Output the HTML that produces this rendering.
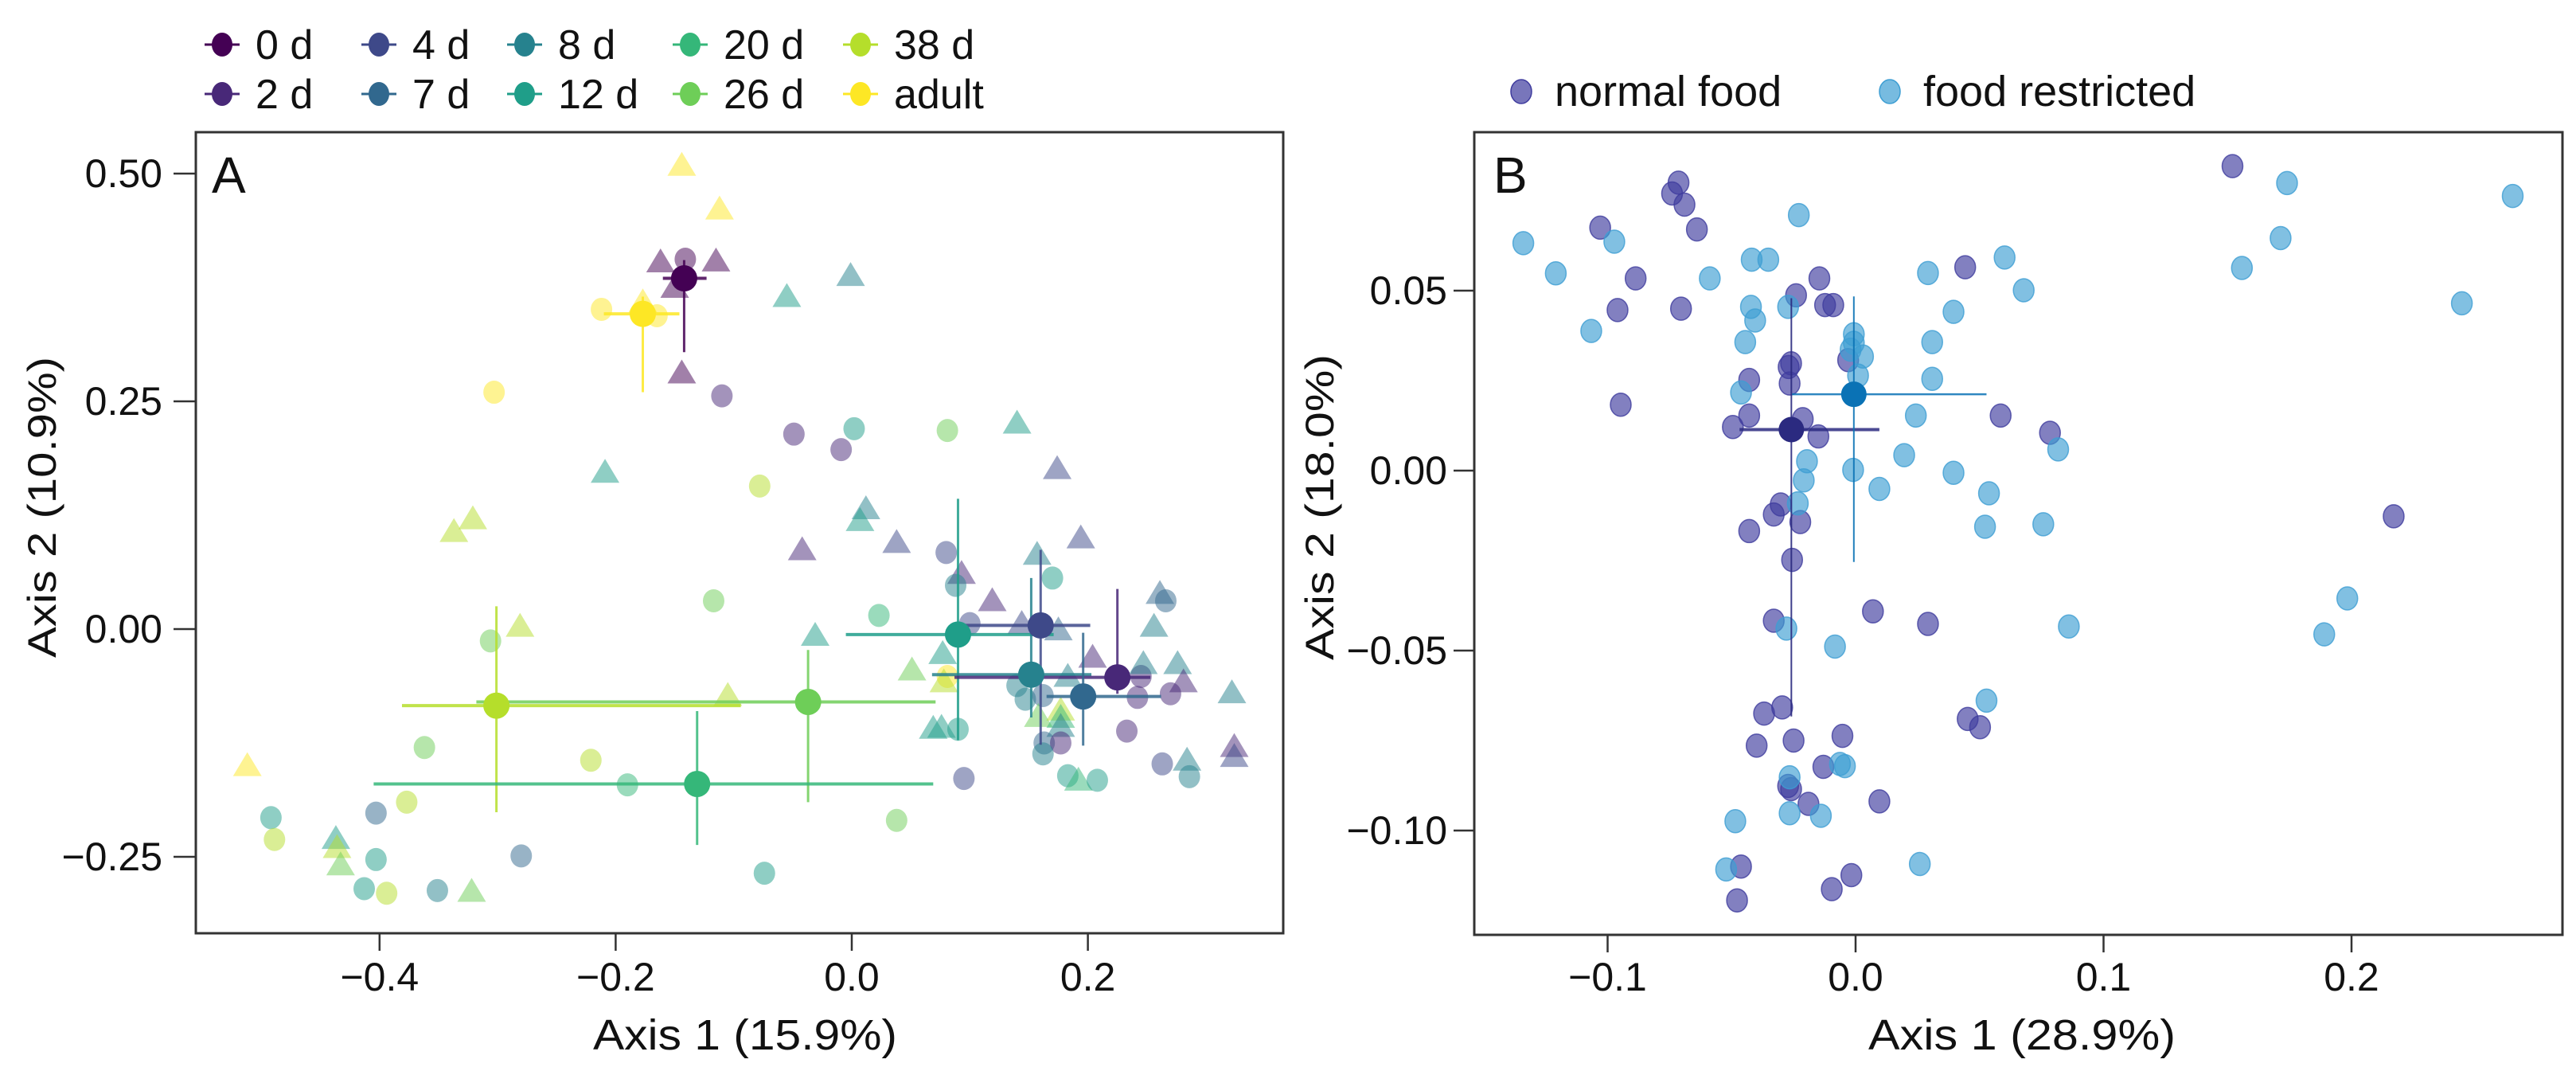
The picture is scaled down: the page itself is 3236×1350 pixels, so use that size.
<!DOCTYPE html>
<html><head><meta charset="utf-8">
<style>
html,body{margin:0;padding:0;background:#fff;}
svg{display:block;}
text{font-family:"Liberation Sans Narrow","Liberation Sans",sans-serif;fill:#111;}
.rt{font-family:"Liberation Sans",sans-serif;}
</style></head>
<body>
<svg id="chart" width="3236" height="1350" viewBox="0 0 3236 1350" xmlns="http://www.w3.org/2000/svg">
<defs>
<clipPath id="clipA"><rect x="246" y="166" width="1366" height="1006"/></clipPath>
<clipPath id="clipB"><rect x="1852" y="166" width="1367" height="1008"/></clipPath>
</defs>
<rect width="3236" height="1350" fill="#fff"/>
<g id="legendA"></g>
<g id="legendB"></g>
<g id="panelA">
  <g id="ptsA" clip-path="url(#clipA)"></g>
  <rect x="246" y="166" width="1366" height="1006" fill="none" stroke="#333" stroke-width="3"/>
  <text x="266" y="242" font-size="64">A</text>
  <g id="axA"></g>
  <text x="936" y="1318" font-size="54" text-anchor="middle" textLength="382" lengthAdjust="spacingAndGlyphs">Axis 1  (15.9%)</text>
  <text class="rt" x="0" y="0" font-size="50" text-anchor="middle" textLength="378" lengthAdjust="spacingAndGlyphs" transform="translate(70,637) rotate(-90)">Axis 2  (10.9%)</text>
</g>
<g id="panelB">
  <g id="ptsB" clip-path="url(#clipB)"></g>
  <rect x="1852" y="166" width="1367" height="1008" fill="none" stroke="#333" stroke-width="3"/>
  <text x="1876" y="242" font-size="64" class="rt">B</text>
  <g id="axB"></g>
  <text x="2540" y="1318" font-size="54" text-anchor="middle" textLength="386" lengthAdjust="spacingAndGlyphs">Axis 1  (28.9%)</text>
  <text class="rt" x="0" y="0" font-size="50" text-anchor="middle" textLength="384" lengthAdjust="spacingAndGlyphs" transform="translate(1675,637) rotate(-90)">Axis 2  (18.0%)</text>
</g>
</svg>
<script>
const NS="http://www.w3.org/2000/svg";
// ---------- Panel A data ----------
const groupLabels=["0 d","2 d","4 d","7 d","8 d","12 d","20 d","26 d","38 d","adult"];
const groupColors=["#440154","#482878","#3e4989","#31688e","#26828e","#1f9e89","#35b779","#6ece58","#b5de2b","#fde725"];
const aGroup=[9,9,0,0,0,0,9,9,9,0,1,9,5,8,8,5,4,1,5,1,7,5,2,8,4,5,2,2,1,2,1,4,1,4,5,3,3,4,6,5,2,2,3,5,7,9,8,1,1,4,4,1,1,1,4,4,4,4,3,7,8,6,4,5,5,5,1,3,1,4,1,2,2,4,4,2,5,6,5,7,5,7,8,7,8,7,8,9,6,8,3,5,8,5,8,7,5,3,5,8,4,7];
const aShape=["t","t","t","d","t","t","d","d","t","t","d","d","t","t","t","t","t","d","d","d","d","t","t","d","t","t","t","t","t","d","t","d","t","t","d","t","d","t","d","t","d","t","t","t","t","d","t","t","d","t","t","t","d","d","t","t","d","d","d","t","t","t","t","t","t","d","d","d","d","d","t","t","d","t","d","d","d","t","d","d","d","d","t","d","t","d","d","t","d","d","d","d","d","t","t","t","d","d","d","d","d","t"];
const aX=[-0.144,-0.112,-0.162,-0.141,-0.115,-0.150,-0.212,-0.165,-0.177,-0.144,-0.110,-0.303,-0.209,-0.321,-0.337,-0.055,-0.001,-0.049,0.002,-0.009,0.081,0.140,0.174,-0.078,0.012,0.007,0.038,0.194,-0.042,0.080,0.093,0.088,0.119,0.157,0.170,0.261,0.266,0.256,0.023,-0.031,0.100,0.144,0.175,0.077,0.051,0.081,0.078,0.204,0.245,0.247,0.276,0.281,0.270,0.242,0.322,0.183,0.140,0.147,0.162,0.158,0.177,0.177,0.177,0.069,0.076,0.090,0.233,0.163,0.177,0.162,0.324,0.324,0.263,0.284,0.286,0.095,0.183,0.192,0.208,0.038,-0.074,-0.117,-0.281,-0.306,-0.105,-0.362,-0.221,-0.512,-0.190,-0.377,-0.403,-0.492,-0.489,-0.437,-0.436,-0.433,-0.403,-0.280,-0.413,-0.394,-0.351,-0.322];
const aY=[0.509,0.461,0.403,0.406,0.404,0.375,0.351,0.344,0.359,0.281,0.256,0.260,0.172,0.121,0.107,0.365,0.388,0.214,0.220,0.197,0.218,0.226,0.176,0.157,0.132,0.119,0.095,0.100,0.087,0.084,0.061,0.048,0.031,0.082,0.056,0.039,0.031,0.003,0.015,-0.007,0.006,0.006,-0.001,-0.027,-0.045,-0.052,-0.058,-0.031,-0.052,-0.038,-0.038,-0.058,-0.071,-0.075,-0.070,-0.052,-0.062,-0.077,-0.073,-0.096,-0.089,-0.097,-0.107,-0.109,-0.108,-0.110,-0.112,-0.125,-0.125,-0.137,-0.129,-0.140,-0.148,-0.144,-0.162,-0.164,-0.161,-0.166,-0.166,-0.210,-0.268,0.031,0.003,-0.013,-0.073,-0.130,-0.144,-0.150,-0.171,-0.190,-0.202,-0.207,-0.231,-0.230,-0.240,-0.259,-0.253,-0.249,-0.285,-0.290,-0.287,-0.288];
const cGroup=[0,9,8,7,6,5,2,4,1,3];
const cX=[-0.142,-0.177,-0.301,-0.037,-0.131,0.090,0.160,0.152,0.225,0.196];
const cY=[0.385,0.346,-0.084,-0.080,-0.170,-0.006,0.004,-0.050,-0.053,-0.074];
const cXlo=[-0.160,-0.210,-0.381,-0.318,-0.405,-0.005,0.094,0.068,0.087,0.165];
const cXhi=[-0.123,-0.146,-0.094,0.071,0.069,0.171,0.202,0.203,0.253,0.262];
const cYlo=[0.304,0.260,-0.201,-0.190,-0.237,-0.122,-0.127,-0.097,-0.071,-0.128];
const cYhi=[0.405,0.365,0.025,-0.023,-0.090,0.143,0.087,0.056,0.044,-0.004];
const aXTicks=[-0.4,-0.2,0,0.2];
const aXTickLabels=["\u22120.4","\u22120.2","0.0","0.2"];
const aYTicks=[0.5,0.25,0,-0.25];
const aYTickLabels=["0.50","0.25","0.00","\u22120.25"];
// ---------- Panel B data ----------
const bLabels=["normal food","food restricted"];
const bColors=["#3f3c9e","#3d9ed3"];
const bCentroidColors=["#2b2a80","#0a72b5"];
const nfX=[0.152,-0.0714,-0.074,-0.069,-0.064,-0.103,-0.0887,0.0442,-0.0146,-0.024,-0.096,-0.0704,-0.0123,-0.009,-0.027,-0.026,-0.0429,-0.0266,-0.003,-0.0947,-0.0429,-0.0495,-0.0213,-0.015,0.0585,0.0784,0.217,-0.0302,-0.033,-0.0223,-0.0429,-0.0256,0.007,-0.033,0.0292,-0.0296,-0.0369,0.0452,0.0502,-0.0053,-0.025,-0.0399,-0.013,-0.0272,-0.026,-0.019,0.0096,-0.0462,-0.0017,-0.0096,-0.0478];
const nfY=[0.0846,0.080,0.077,0.0739,0.067,0.0675,0.0534,0.0565,0.0534,0.0487,0.0446,0.045,0.046,0.046,0.0288,0.0298,0.0252,0.0242,0.0307,0.0183,0.0153,0.0121,0.0143,0.0095,0.0153,0.0105,-0.0127,-0.0094,-0.0122,-0.0143,-0.0168,-0.0248,-0.0391,-0.0417,-0.0426,-0.0658,-0.0675,-0.069,-0.0713,-0.0737,-0.075,-0.0764,-0.0823,-0.0876,-0.0885,-0.0926,-0.0919,-0.110,-0.1124,-0.1163,-0.1194];
const frX=[0.174,0.265,-0.0229,-0.134,-0.0973,0.1714,-0.1209,-0.0588,-0.0419,-0.0352,0.0601,0.0292,0.1558,0.0678,0.2445,-0.0422,-0.0272,-0.0405,-0.1066,0.0395,-0.0445,-0.0007,-0.0007,0.0309,0.003,-0.002,0.001,0.0309,-0.0462,0.0243,0.0196,0.0817,-0.0196,-0.001,-0.0209,0.0395,0.0096,0.0538,-0.0233,0.0522,0.0757,0.1983,0.086,0.189,-0.0279,-0.0083,0.0528,-0.0063,-0.0043,-0.0266,-0.0266,-0.014,-0.0485,0.0259,-0.0522];
const frY=[0.0799,0.0763,0.071,0.0632,0.0636,0.0646,0.0548,0.0534,0.0586,0.0586,0.0592,0.0549,0.0563,0.0501,0.0465,0.0455,0.0455,0.0417,0.0388,0.0441,0.0357,0.0379,0.0355,0.0357,0.0317,0.0336,0.0264,0.0255,0.0217,0.0153,0.0043,0.0059,0.0026,0.0002,-0.0027,-0.0006,-0.0051,-0.0063,-0.0091,-0.0156,-0.0149,-0.0355,-0.0433,-0.0455,-0.0439,-0.0489,-0.0639,-0.0815,-0.0821,-0.0852,-0.0952,-0.0959,-0.0974,-0.1093,-0.1108];
const bcX=[-0.0259,-0.0007];
const bcY=[0.0114,0.0212];
const bcXlo=[-0.0468,-0.0256];
const bcXhi=[0.0096,0.0528];
const bcYlo=[-0.0683,-0.0254];
const bcYhi=[0.0479,0.0484];
const bXTicks=[-0.1,0,0.1,0.2];
const bXTickLabels=["\u22120.1","0.0","0.1","0.2"];
const bYTicks=[0.05,0,-0.05,-0.1];
const bYTickLabels=["0.05","0.00","\u22120.05","\u22120.10"];

// ---------- scales ----------
function ax(v){return 1070+1483*v;}
function ay(v){return 790-1144*v;}
function bx(v){return 2331+3115*v;}
function by(v){return 591-4520*v;}

function mk(tag,attrs,parent){const e=document.createElementNS(NS,tag);for(const k in attrs)e.setAttribute(k,attrs[k]);parent.appendChild(e);return e;}

// ---------- Panel A ----------
const ptsA=document.getElementById('ptsA');
for(let i=0;i<aX.length;i++){
  const x=ax(aX[i]),y=ay(aY[i]),c=groupColors[aGroup[i]];
  let el;
  if(aShape[i]==="t"){
    el=mk('polygon',{points:(x)+","+(y-17)+" "+(x-18)+","+(y+13)+" "+(x+18)+","+(y+13),fill:c,'fill-opacity':0.5},ptsA);
    
    
  }else{
    el=mk('ellipse',{cx:x,cy:y,rx:13.5,ry:14.5,fill:c,'fill-opacity':0.5},ptsA);
    
    
  }
}
for(let i=0;i<cX.length;i++){
  const c=groupColors[cGroup[i]];
  const h=mk('line',{x1:ax(cXlo[i]),x2:ax(cXhi[i]),y1:ay(cY[i]),y2:ay(cY[i]),stroke:c,'stroke-width':4,'stroke-opacity':0.85},ptsA);
  
  
  const v=mk('line',{x1:ax(cX[i]),x2:ax(cX[i]),y1:ay(cYlo[i]),y2:ay(cYhi[i]),stroke:c,'stroke-width':3,'stroke-opacity':0.85},ptsA);
  
  
}
for(let i=0;i<cX.length;i++){
  const c=groupColors[cGroup[i]];
  const p=mk('circle',{cx:ax(cX[i]),cy:ay(cY[i]),r:16.5,fill:c},ptsA);
  
  
}
const axA=document.getElementById('axA');
for(let i=0;i<aXTicks.length;i++){
  const x=ax(aXTicks[i]);
  const t=mk('line',{x1:x,x2:x,y1:1172,y2:1194,stroke:'#333','stroke-width':2.5},axA);
  
  
  const l=mk('text',{x:x,y:1244,'font-size':50,'text-anchor':'middle'},axA);
  l.textContent=aXTickLabels[i];
  
  
}
for(let i=0;i<aYTicks.length;i++){
  const y=ay(aYTicks[i]);
  const t=mk('line',{x1:218,x2:246,y1:y,y2:y,stroke:'#333','stroke-width':2.5},axA);
  
  
  const l=mk('text',{x:204,y:y+17,'font-size':50,'text-anchor':'end'},axA);
  l.textContent=aYTickLabels[i];
  
  
}
// legend A
const legA=document.getElementById('legendA');
const legColX=[279,476,659,867,1081];
const legRowY=[56,118];
for(let g=0;g<groupLabels.length;g++){
  const col=Math.floor(g/2),row=g%2;
  const x=legColX[col],y=legRowY[row];
  const ln=mk('line',{x1:x-22,x2:x+22,y1:y,y2:y,stroke:groupColors[g],'stroke-width':3},legA);
  
  
  const c=mk('ellipse',{cx:x,cy:y,rx:13,ry:15,fill:groupColors[g]},legA);
  
  
  const t=mk('text',{x:x+42,y:y+18,'font-size':52},legA);
  t.textContent=groupLabels[g];
  
  
}

// ---------- Panel B ----------
const ptsB=document.getElementById('ptsB');
function bpt(x,y,k,name){
  const e=mk('ellipse',{cx:bx(x),cy:by(y),rx:13,ry:14.5,fill:bColors[k],'fill-opacity':0.65,stroke:bColors[k],'stroke-opacity':0.8,'stroke-width':1.5},ptsB);
  
  
}
for(let i=0;i<nfX.length;i++){bpt(nfX[i],nfY[i],0,'normal-food-point');}
for(let i=0;i<frX.length;i++){bpt(frX[i],frY[i],1,'food-restricted-point');}
for(let i=0;i<bcX.length;i++){
  const c=bCentroidColors[i];
  const h=mk('line',{x1:bx(bcXlo[i]),x2:bx(bcXhi[i]),y1:by(bcY[i]),y2:by(bcY[i]),stroke:c,'stroke-width':i===0?4:2.5,'stroke-opacity':0.85},ptsB);
  
  
  const v=mk('line',{x1:bx(bcX[i]),x2:bx(bcX[i]),y1:by(bcYlo[i]),y2:by(bcYhi[i]),stroke:c,'stroke-width':2,'stroke-opacity':0.9},ptsB);
  
  
}
for(let i=0;i<bcX.length;i++){
  const p=mk('circle',{cx:bx(bcX[i]),cy:by(bcY[i]),r:16,fill:bCentroidColors[i]},ptsB);
  
  
}
const axB=document.getElementById('axB');
for(let i=0;i<bXTicks.length;i++){
  const x=bx(bXTicks[i]);
  const t=mk('line',{x1:x,x2:x,y1:1174,y2:1196,stroke:'#333','stroke-width':2.5},axB);
  
  
  const l=mk('text',{x:x,y:1244,'font-size':50,'text-anchor':'middle'},axB);
  l.textContent=bXTickLabels[i];
  
  
}
for(let i=0;i<bYTicks.length;i++){
  const y=by(bYTicks[i]);
  const t=mk('line',{x1:1826,x2:1852,y1:y,y2:y,stroke:'#333','stroke-width':2.5},axB);
  
  
  const l=mk('text',{x:1818,y:y+17,'font-size':50,'text-anchor':'end'},axB);
  l.textContent=bYTickLabels[i];
  
  
}
const legB=document.getElementById('legendB');
const legBX=[1911,2374];
for(let k=0;k<2;k++){
  const c=mk('ellipse',{cx:legBX[k],cy:115,rx:13,ry:15,fill:bColors[k],'fill-opacity':0.7,stroke:bColors[k],'stroke-width':1.5},legB);
  
  
  const t=mk('text',{x:legBX[k]+42,y:133,'font-size':54},legB);
  t.textContent=bLabels[k];
  
  
}
</script>
</body></html>
